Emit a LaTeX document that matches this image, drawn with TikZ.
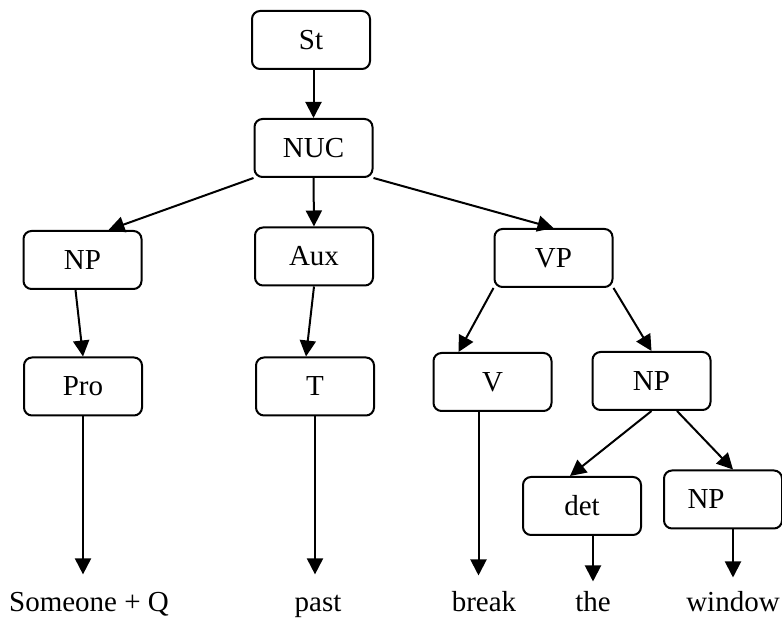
\documentclass[tikz,border=0pt]{standalone}
\usepackage{fontspec}
\setmainfont{Liberation Serif}
\usetikzlibrary{arrows.meta}

\begin{document}
\begin{tikzpicture}[x=0.5pt,y=-0.5pt,>={Triangle[length=8pt,width=8pt]},
  box/.style={draw,line width=1pt,rounded corners=4pt,minimum width=59pt,minimum height=29pt,inner sep=0pt,font=\fontsize{14.5}{17}\selectfont},
  word/.style={inner sep=0pt,anchor=base,font=\fontsize{14.5}{17}\selectfont},
  link/.style={->,line width=1pt}]

\useasboundingbox (0,0) rectangle (782,619);

% Boxes
\node[box] (st) at (311,40) {St};
\node[box] (nuc) at (313.5,148) {NUC};
\node[box] (np1) at (82.5,260) {NP};
\node[box] (aux) at (314,256.5) {Aux};
\node[box] (vp) at (553.5,258) {VP};
\node[box] (pro) at (83,386.5) {Pro};
\node[box] (t) at (315,386.5) {T};
\node[box] (v) at (492.5,382) {V};
\node[box] (np2) at (651.5,381) {NP};
\node[box] (det) at (582,506) {det};
\node[box,inner xsep=11pt,text width=35.5pt,align=left] (np3) at (723,499.5) {NP};

% Words
\node[word] (w1) at (89,612) {Someone + Q};
\node[word] (w2) at (318,612) {past};
\node[word] (w3) at (484,612) {break};
\node[word] (w4) at (593,612) {the};
\node[word] (w5) at (733,612) {window};

% Arrows between boxes
\draw[link] (st.south -| nuc.north) -- (nuc.north);
\draw[link] (nuc.south west) -- ([xshift=13pt]np1.north);
\draw[link] (nuc.south) -- (aux.north);
\draw[link] (nuc.south east) -- (vp.north);
\draw[link] ([xshift=-3.5pt]np1.south) -- (pro.north);
\draw[link] (aux.south) -- ([xshift=-4.5pt]t.north);
\draw[link] (vp.south west) -- ([xshift=-17pt]v.north);
\draw[link] (vp.south east) -- (np2.north);
\draw[link] (np2.south) -- ([xshift=-6pt]det.north);
\draw[link] ([xshift=12.75pt]np2.south) -- ([xshift=5pt]np3.north);

% Arrows down to the words
\draw[link,shorten >=9pt] (pro.south) -- (pro.south |- w1.north);
\draw[link,shorten >=9pt] (t.south) -- (t.south |- w1.north);
\draw[link,shorten >=8pt] ([xshift=-7pt]v.south) -- ([xshift=-7pt]v.south |- w3.north);
\draw[link,shorten >=5pt] (det.south -| w4.north) -- (w4.north);
\draw[link,shorten >=7pt] (np3.south -| w5.north) -- (w5.north);

\end{tikzpicture}
\end{document}
